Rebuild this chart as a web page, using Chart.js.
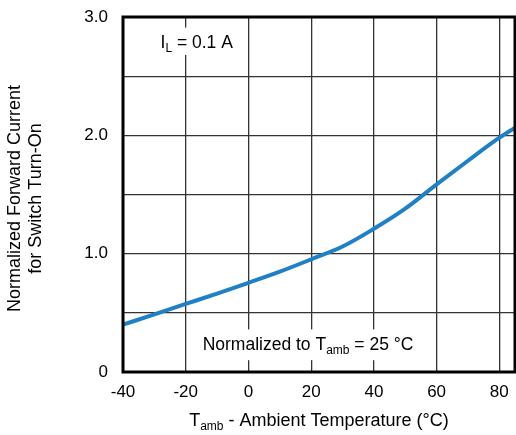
<!DOCTYPE html>
<html>
<head>
<meta charset="utf-8">
<script src="https://cdn.jsdelivr.net/npm/chart.js@4.4.1/dist/chart.umd.min.js"></script>
<style>
html,body{margin:0;padding:0;background:#fff;}
#wrap{width:516px;height:435px;position:relative;}
</style>
</head>
<body>
<div id="wrap"><canvas id="c" width="516" height="435"></canvas></div>
<script>
// Data
const temperatures = [-40, -30, -20, -10, 0, 10, 20, 30, 40, 50, 60, 70, 80, 85];
const normCurrent  = [0.40, 0.487, 0.575, 0.663, 0.754, 0.848, 0.952, 1.06, 1.21, 1.38, 1.585, 1.785, 1.98, 2.065];
const xTickValues = [-40, -20, 0, 20, 40, 60, 80];
const yLabelValues = [0, 1, 2, 3];
const yTitleLines = ['Normalized Forward Current', 'for Switch Turn-On'];
const noteTop = {main: 'I', sub: 'L', rest: ' = 0.1 A'};
const noteBottom = {pre: 'Normalized to T', sub: 'amb', rest: ' = 25 °C'};
const xTitle = {main: 'T', sub: 'amb', rest: ' - Ambient Temperature (°C)'};

const FONT = '"Liberation Sans", Arial, sans-serif';

function drawSubText(ctx, parts, cx, cy, size, align) {
  const subSize = Math.round(size * 0.68);
  let total = 0;
  const widths = parts.map(p => {
    ctx.font = (p[1] ? subSize : size) + 'px ' + FONT;
    const w = ctx.measureText(p[0]).width;
    total += w;
    return w;
  });
  let x = align === 'left' ? cx : cx - total / 2;
  ctx.textBaseline = 'middle';
  ctx.textAlign = 'left';
  parts.forEach((p, i) => {
    ctx.font = (p[1] ? subSize : size) + 'px ' + FONT;
    ctx.fillText(p[0], x, cy + (p[1] ? size * 0.33 : 0));
    x += widths[i];
  });
  return total;
}

const decor = {
  id: 'decor',
  beforeDatasetsDraw(chart) {
    const ctx = chart.ctx;
    const xs = chart.scales.x, ys = chart.scales.y;
    ctx.save();
    ctx.fillStyle = '#fff';
    let x0 = xs.getPixelForValue(-32), x1 = xs.getPixelForValue(-2);
    let y0 = ys.getPixelForValue(2.91), y1 = ys.getPixelForValue(2.68);
    ctx.fillRect(x0, y0, x1 - x0, y1 - y0);
    x0 = xs.getPixelForValue(-16); x1 = xs.getPixelForValue(54);
    y0 = ys.getPixelForValue(0.36); y1 = ys.getPixelForValue(0.1);
    ctx.fillRect(x0, y0, x1 - x0, y1 - y0);
    ctx.restore();
  },
  afterDatasetsDraw(chart) {
    const ctx = chart.ctx;
    const a = chart.chartArea;
    const xs = chart.scales.x, ys = chart.scales.y;
    ctx.save();
    ctx.strokeStyle = '#000';
    ctx.lineWidth = 3;
    ctx.strokeRect(a.left, a.top, a.right - a.left, a.bottom - a.top);
    ctx.fillStyle = '#000';
    drawSubText(ctx, [[noteTop.main, false], [noteTop.sub, true], [noteTop.rest, false]],
      xs.getPixelForValue(-16.5), ys.getPixelForValue(2.78), 17.5, 'center');
    drawSubText(ctx, [[noteBottom.pre, false], [noteBottom.sub, true], [noteBottom.rest, false]],
      xs.getPixelForValue(19), ys.getPixelForValue(0.225), 17.5, 'center');
    drawSubText(ctx, [[xTitle.main, false], [xTitle.sub, true], [xTitle.rest, false]],
      (a.left + a.right) / 2, a.bottom + 49, 18, 'center');
    ctx.translate(15, (a.top + a.bottom) / 2 + 4);
    ctx.rotate(-Math.PI / 2);
    ctx.font = '18px ' + FONT;
    ctx.textAlign = 'center';
    ctx.textBaseline = 'middle';
    ctx.fillText(yTitleLines[0], 0, 0);
    ctx.fillText(yTitleLines[1], 0, 21);
    ctx.restore();
  }
};

new Chart(document.getElementById('c'), {
  type: 'line',
  data: {
    datasets: [{
      data: temperatures.map((t, i) => ({x: t, y: normCurrent[i]})),
      borderColor: '#1f80c6',
      borderWidth: 4,
      pointRadius: 0,
      cubicInterpolationMode: 'monotone',
      fill: false
    }]
  },
  options: {
    responsive: false,
    animation: false,
    layout: {padding: {top: 17, right: 1, left: 0, bottom: 0}},
    plugins: {legend: {display: false}, tooltip: {enabled: false}},
    scales: {
      x: {
        type: 'linear', min: -40, max: 85,
        afterBuildTicks(s) { s.ticks = xTickValues.map(v => ({value: v})); },
        afterFit(s) { s.height = 63; s.paddingLeft = 0; s.paddingRight = 0; },
        grid: {color: '#333', lineWidth: 1.3, drawTicks: false},
        border: {display: false},
        ticks: {color: '#000', font: {family: FONT, size: 17}, padding: 10, maxRotation: 0,
          callback: v => String(v)}
      },
      y: {
        type: 'linear', min: 0, max: 3,
        ticks: {stepSize: 0.5, color: '#000', font: {family: FONT, size: 17}, padding: 15,
          callback: v => yLabelValues.includes(v) ? (v === 0 ? '0' : v.toFixed(1)) : ''},
        afterFit(s) { s.width = 123; s.paddingTop = 0; s.paddingBottom = 0; },
        grid: {color: '#333', lineWidth: 1.3, drawTicks: false},
        border: {display: false}
      }
    }
  },
  plugins: [decor]
});
</script>
</body>
</html>
